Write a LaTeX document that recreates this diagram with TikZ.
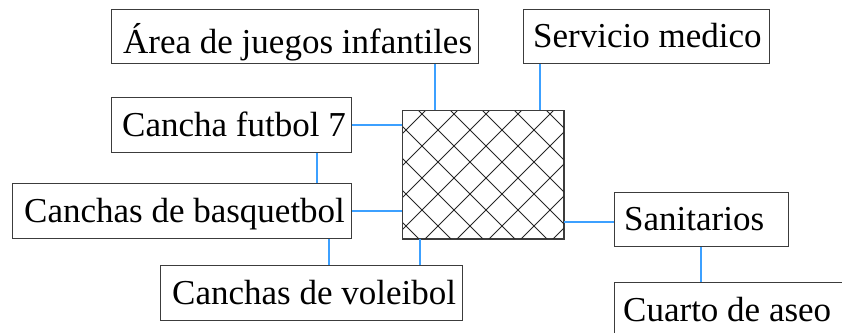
\documentclass[tikz,border=0pt]{standalone}
\usepackage{fontspec}
\setmainfont{Liberation Serif}
\newfontfamily\lserif{Liberation Serif}
\usetikzlibrary{calc}
\definecolor{connblue}{RGB}{60,160,255}
\definecolor{boxgray}{RGB}{60,60,60}
\begin{document}
\begin{tikzpicture}[x=1pt,y=-1pt,
  box/.style={draw=boxgray, line width=1pt, inner sep=0pt, anchor=north west, rectangle},
  txt/.style={inner sep=0pt, anchor=base west, font=\lserif\fontsize{35}{42}\selectfont, text=black},
  conn/.style={draw=connblue, line width=1.3pt},
  hatchline/.style={draw=black!85, line width=0.8pt}]
\useasboundingbox (0,0) rectangle (842,332);
\clip (0,0) rectangle (842,332);

% boxes
\node[box, minimum width=367pt, minimum height=54pt] (area) at (111,9) {};
\node[box, minimum width=246pt, minimum height=54pt] (serv) at (523,9) {};
\node[box, minimum width=240pt, minimum height=55pt] (futbol) at (111,97) {};
\node[box, minimum width=339pt, minimum height=55pt] (basq) at (12,183) {};
\node[box, minimum width=161pt, minimum height=128pt] (hub) at (402,110) {};
\node[box, minimum width=174pt, minimum height=54pt] (sanit) at (614,192) {};
\node[box, minimum width=302pt, minimum height=55pt] (volei) at (160,265) {};
\node[box, minimum width=240pt, minimum height=70pt] (cuarto) at (614,282) {};

% hatch of the central area
\begin{scope}
\clip (hub.north west) rectangle (hub.south east);
\foreach \k in {-6,...,10} {
  \draw[hatchline] ({308+32*\k+100},100) -- ({308+32*\k+250},250);
  \draw[hatchline] ({536+32*\k-100},100) -- ({536+32*\k-250},250);
}
\end{scope}
\draw[boxgray, line width=1pt] (hub.north west) rectangle (hub.south east);

% texts
\node[txt] (areat) at (123,53) {Área de juegos infantiles};
\node[txt] (servt) at (533,47) {Servicio medico};
\node[txt] (futbolt) at (122,136) {Cancha futbol 7};
\node[txt] (basqt) at (24,222) {Canchas de basquetbol};
\node[txt] (sanitt) at (624,230) {Sanitarios};
\node[txt] (voleit) at (172,304) {Canchas de voleibol};
\node[txt] (cuartot) at (623,321) {Cuarto de aseo};

% connectors
\coordinate (xa) at (435,0);
\coordinate (xs) at (540,0);
\coordinate (xf) at (317,0);
\coordinate (xb) at (329,0);
\coordinate (xh) at (420,0);
\coordinate (xc) at (701,0);
\coordinate (ys) at (0,222);
\draw[conn] (area.south -| xa) -- (hub.north -| xa);
\draw[conn] (serv.south -| xs) -- (hub.north -| xs);
\draw[conn] (futbol.east) -- (futbol.east -| hub.west);
\draw[conn] (futbol.south -| xf) -- (basq.north -| xf);
\draw[conn] (basq.east) -- (basq.east -| hub.west);
\draw[conn] (basq.south -| xb) -- (volei.north -| xb);
\draw[conn] (hub.south -| xh) -- (volei.north -| xh);
\draw[conn] (hub.east |- ys) -- (sanit.west |- ys);
\draw[conn] (sanit.south -| xc) -- (cuarto.north -| xc);
\end{tikzpicture}
\end{document}
